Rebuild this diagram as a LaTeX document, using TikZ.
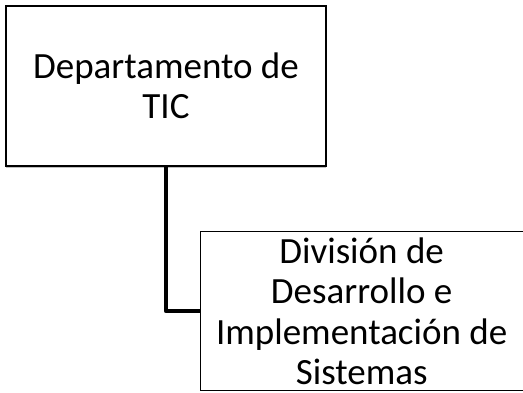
\documentclass[tikz,border=0pt]{standalone}
\usepackage{fontspec}
\setmainfont{Carlito}
\usetikzlibrary{shadows}
\begin{document}
\begin{tikzpicture}[x=1pt,y=1pt,
  box/.style={draw=black, line width=1.3pt, fill=white, align=center, inner sep=0pt,
    font=\fontsize{37}{40.5}\selectfont},
  shadowed/.style={drop shadow={shadow xshift=0pt, shadow yshift=-2pt, opacity=0.25, fill=black}},
  link/.style={line width=4pt, line join=round}]
\useasboundingbox (0,0) rectangle (523,392);
\node[box, shadowed, minimum width=320pt, minimum height=160pt] (top) at (166,306) {Departamento de\\TIC};
\node[box, minimum width=323pt, minimum height=159pt, anchor=north west] (bot) at (199.5,161) {División de\\Desarrollo e\\Implementación de\\Sistemas};
\draw[link] (top.south) |- (bot.west);
\end{tikzpicture}
\end{document}
